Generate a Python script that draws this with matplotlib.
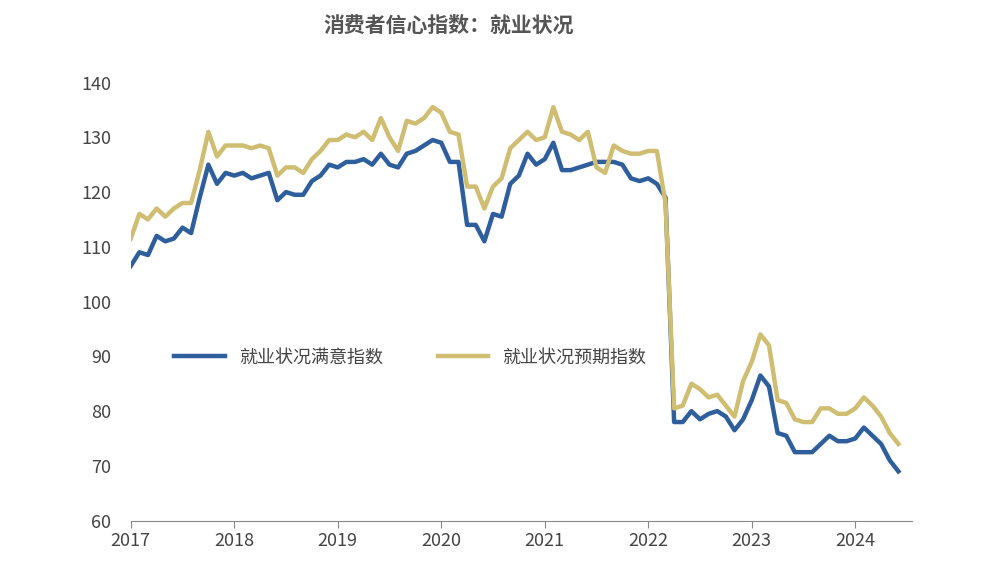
import matplotlib
matplotlib.use("Agg")
import matplotlib.pyplot as plt
import numpy as np

plt.rcParams["font.family"] = ["Noto Sans CJK SC", "DejaVu Sans"]

start_year = 2017
satisfaction = [
    106.5,109,108.5,112,111,111.5,113.5,112.5,119,125,121.5,123.5,
    123,123.5,122.5,123,123.5,118.5,120,119.5,119.5,122,123,125,
    124.5,125.5,125.5,126,125,127,125,124.5,127,127.5,128.5,129.5,
    129,125.5,125.5,114,114,111,116,115.5,121.5,123,127,125,
    126,129,124,124,124.5,125,125.5,125.5,125.5,125,122.5,122,
    122.5,121.5,119,78,78,80,78.5,79.5,80,79,76.5,78.5,
    82,86.5,84.5,76,75.5,72.5,72.5,72.5,74,75.5,74.5,74.5,
    75,77,75.5,74,71,69]
expectation = [
    111.5,116,115,117,115.5,117,118,118,124,131,126.5,128.5,
    128.5,128.5,128,128.5,128,123,124.5,124.5,123.5,126,127.5,129.5,
    129.5,130.5,130,131,129.5,133.5,130,127.5,133,132.5,133.5,135.5,
    134.5,131,130.5,121,121,117,121,122.5,128,129.5,131,129.5,
    130,135.5,131,130.5,129.5,131,124.5,123.5,128.5,127.5,127,127,
    127.5,127.5,118,80.5,81,85,84,82.5,83,81,79,85.5,
    89,94,92,82,81.5,78.5,78,78,80.5,80.5,79.5,79.5,
    80.5,82.5,81,79,76,74]
year_ticks = list(range(2017, 2025))
y_ticks = list(range(60, 141, 10))

x = start_year + np.arange(len(satisfaction)) / 12

fig = plt.figure(figsize=(9.98, 5.69), dpi=100)
ax = fig.add_axes([0.131, 0.085, 0.783, 0.77])
ax.plot(x, satisfaction, color="#2e5f9c", lw=3.2, label="就业状况满意指数")
ax.plot(x, expectation, color="#cfbd72", lw=3.2, label="就业状况预期指数")
ax.set_xlim(2017, 2024.55)
ax.set_ylim(60, 140)
ax.set_xticks(year_ticks)
ax.set_xticklabels([str(y) for y in year_ticks], fontsize=13, color="#444444")
ax.set_yticks(y_ticks)
ax.set_yticklabels([str(v) for v in y_ticks], fontsize=13, color="#444444")
for s in ["top", "right", "left"]:
    ax.spines[s].set_visible(False)
ax.spines["bottom"].set_color("#888888")
ax.tick_params(axis="y", length=0, pad=14)
ax.tick_params(axis="x", length=5, color="#888888", direction="out")
ax.legend(loc="upper left", bbox_to_anchor=(0.035, 0.43), ncol=2, frameon=False,
          fontsize=13, handlelength=2.8, columnspacing=3, labelcolor="#444444")
fig.text(0.45, 0.955, "消费者信心指数：就业状况", ha="center", va="center",
         fontsize=15, fontweight="bold", color="#555555")
fig.savefig("out.png", dpi=100)
